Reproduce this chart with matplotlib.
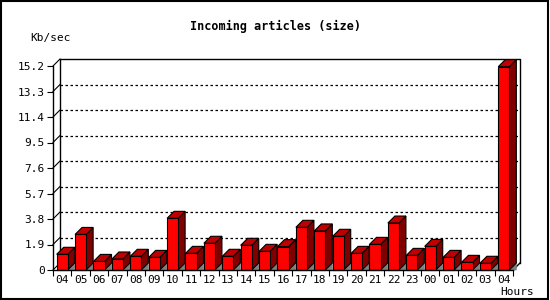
import matplotlib.pyplot as plt
from matplotlib.patches import Polygon, Rectangle

# hourly incoming article volume (Kb/sec)
hours = ['04', '05', '06', '07', '08', '09', '10', '11', '12', '13', '14', '15',
         '16', '17', '18', '19', '20', '21', '22', '23', '00', '01', '02', '03', '04']
kbps = [1.17, 2.65, 0.64, 0.82, 1.02, 0.94, 3.85, 1.24, 1.99, 1.02, 1.84, 1.39,
        1.74, 3.18, 2.91, 2.51, 1.24, 1.91, 3.50, 1.09, 1.76, 0.94, 0.57, 0.50, 15.15]
yticks = [0, 1.9, 3.8, 5.7, 7.6, 9.5, 11.4, 13.3, 15.2]

W, H = 550, 300
fig = plt.figure(figsize=(W / 100, H / 100), dpi=100)

# front plane of the 3D box, in pixels
left, right, bottom, top = 53, 513, 270, 66
ax = fig.add_axes([left / W, 1 - bottom / H, (right - left) / W, (bottom - top) / H])
n = len(hours)
ymax = yticks[-1]
ax.set_xlim(-0.5, n - 0.5)
ax.set_ylim(0, ymax)

# depth offset of the 3D effect (7 px) in data units
depth = 7
dx = depth / ((right - left) / n)
dy = depth / ((bottom - top) / ymax)

font = 'DejaVu Sans Mono'

# back wall frame and gridlines
x0, x1 = -0.5 + dx, n - 0.5 + dx
ax.plot([x0, x0, x1, x1], [dy, ymax + dy, ymax + dy, dy], color='black', lw=1,
        clip_on=False, zorder=1)
for v in yticks[1:-1]:
    ax.plot([x0, x1], [v + dy, v + dy], color='black', lw=0.9, ls=(0, (2, 2)),
            clip_on=False, zorder=1)
for v in yticks:
    ax.plot([-0.5, x0], [v, v + dy], color='black', lw=0.8, clip_on=False, zorder=1)
ax.plot([n - 0.5, x1], [0, dy], color='black', lw=1, clip_on=False, zorder=1)

# 3D bars
bw = 0.6
for i, v in enumerate(kbps):
    xl, xr = i - bw / 2, i + bw / 2
    ax.add_patch(Polygon([(xr, 0), (xr + dx, dy), (xr + dx, 0)], closed=True,
                         facecolor='#808080', edgecolor='#808080', lw=0.5,
                         zorder=2, clip_on=False))
    ax.add_patch(Polygon([(xr, 0), (xr + dx, dy), (xr + dx, v + dy), (xr, v)],
                         closed=True, facecolor='#800000', edgecolor='black',
                         lw=0.8, zorder=3, clip_on=False))
    ax.add_patch(Polygon([(xl, v), (xl + dx, v + dy), (xr + dx, v + dy), (xr, v)],
                         closed=True, facecolor='#c00000', edgecolor='black',
                         lw=0.8, zorder=3, clip_on=False))
    ax.add_patch(Rectangle((xl, 0), bw, v, facecolor='#ff0000', edgecolor='black',
                           lw=0.8, zorder=4, clip_on=False))

# axes
for s in ['top', 'right']:
    ax.spines[s].set_visible(False)
for s in ['left', 'bottom']:
    ax.spines[s].set_linewidth(1)
    ax.spines[s].set_zorder(5)
ax.patch.set_alpha(0)
ax.set_yticks(yticks)
ax.set_yticklabels([f'{t:g}' for t in yticks], fontfamily=font, fontsize=8)
ax.set_xticks(range(n))
ax.set_xticklabels(hours, fontfamily=font, fontsize=8)
ax.set_xticks([i - 0.5 for i in range(n + 1)], minor=True)
ax.tick_params(axis='y', direction='out', length=4, width=0.8, pad=2)
ax.tick_params(axis='x', which='major', length=0, pad=3.5)
ax.tick_params(axis='x', which='minor', direction='out', length=4, width=0.8)

fig.text(275 / W, 1 - 26 / H, 'Incoming articles (size)', ha='center', va='center',
         fontfamily=font, fontsize=8.5, fontweight='bold')
fig.text(30 / W, 1 - 38 / H, 'Kb/sec', ha='left', va='center',
         fontfamily=font, fontsize=8)
fig.text(534 / W, 1 - 292 / H, 'Hours', ha='right', va='center',
         fontfamily=font, fontsize=8)

# outer border
fig.patches.append(Rectangle((0.5 / W, 1 / H), 547.5 / W, 298.5 / H,
                             transform=fig.transFigure, fill=False,
                             edgecolor='black', lw=1.5))

fig.savefig('out.png', dpi=100)
